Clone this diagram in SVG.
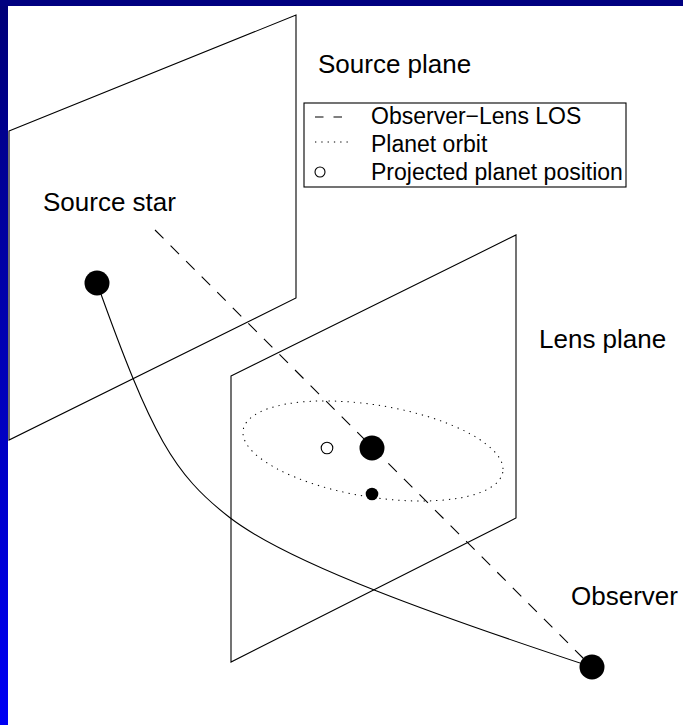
<svg xmlns="http://www.w3.org/2000/svg" width="683" height="725" viewBox="0 0 683 725">
  <defs>
    <linearGradient id="sideBar" x1="0" y1="0" x2="0" y2="1">
      <stop offset="0" stop-color="#000078"/>
      <stop offset="1" stop-color="#0000f4"/>
    </linearGradient>
  </defs>
  <style>
    .edge { fill: none; stroke: #000; stroke-width: 1.1; }
    .los { fill: none; stroke: #000; stroke-width: 1.1; stroke-dasharray: 12 10; }
    .orbit { fill: none; stroke: #000; stroke-width: 1; stroke-dasharray: 1.3 5; }
    .body { fill: #000; }
    .hollow { fill: #fff; stroke: #000; stroke-width: 1.1; }
    .label { font-family: "Liberation Sans", Arial, sans-serif; font-size: 26px; fill: #000; }
    .key { font-family: "Liberation Sans", Arial, sans-serif; font-size: 23px; fill: #000; }
  </style>

  <!-- page background -->
  <rect x="0" y="0" width="683" height="725" fill="#fff"/>

  <!-- source plane -->
  <g id="source-plane">
    <polygon class="edge" points="9,131 296,15 296,298 9,440"/>
    <text class="label" x="318" y="73">Source plane</text>
  </g>

  <!-- lens plane -->
  <g id="lens-plane">
    <polygon class="edge" points="231,376 516,235 516,518 231,662"/>
    <text class="label" x="539" y="348">Lens plane</text>
  </g>

  <!-- connectors: light path and line of sight -->
  <g id="connectors">
    <path id="light-path" class="edge" d="M97,283 C152,437 174,474.1 229,517 C289,563.8 442,617.5 592,667"/>
    <line id="los-line" class="los" x1="155" y1="230" x2="592" y2="667"/>
  </g>

  <!-- planet orbit around the lens -->
  <g id="orbit">
    <ellipse class="orbit" cx="373" cy="451" rx="131.5" ry="46" transform="rotate(9.2 373 451)"/>
  </g>

  <g id="source-star">
    <circle class="body" cx="97" cy="283" r="12.5"/>
    <text class="label" x="43" y="211">Source star</text>
  </g>

  <g id="lens-star">
    <circle class="body" cx="372" cy="448" r="12.5"/>
  </g>

  <g id="planet">
    <circle class="body" cx="372" cy="494" r="6.3"/>
  </g>

  <g id="projected-planet">
    <circle class="hollow" cx="327" cy="448" r="5.8"/>
  </g>

  <g id="observer">
    <circle class="body" cx="592" cy="667" r="12.5"/>
    <text class="label" x="571" y="605">Observer</text>
  </g>

  <!-- legend -->
  <g id="legend">
    <rect x="304" y="103" width="322" height="84" fill="#fff" stroke="#000" stroke-width="1.1"/>
    <line class="los" x1="315" y1="117" x2="343" y2="117" style="stroke-dasharray: 8.5 10"/>
    <line class="orbit" x1="315" y1="142" x2="348" y2="142"/>
    <circle class="hollow" cx="320" cy="172" r="5"/>
    <text class="key" x="371" y="124">Observer−Lens LOS</text>
    <text class="key" x="371" y="152">Planet orbit</text>
    <text class="key" x="371" y="180">Projected planet position</text>
  </g>

  <!-- frame bars -->
  <rect x="0" y="0" width="8" height="725" fill="url(#sideBar)"/>
  <rect x="0" y="0" width="683" height="6" fill="#000080"/>
</svg>
